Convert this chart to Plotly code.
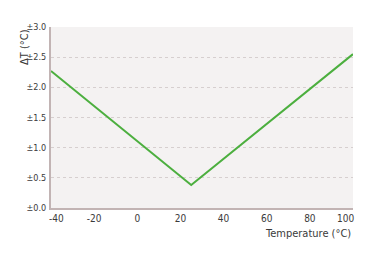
import plotly.graph_objects as go

temps = [-40, 25, 100]
delta_t = [2.27, 0.38, 2.55]
y_ticks = [0.0, 0.5, 1.0, 1.5, 2.0, 2.5, 3.0]
y_labels = ["±0.0", "±0.5", "±1.0", "±1.5", "±2.0", "±2.5", "±3.0"]
x_ticks = [-20, 0, 20, 40, 60, 80]
x_end_labels = [(-40, "-40"), (100, "100")]

FONT = "DejaVu Sans Condensed, Liberation Sans Narrow, Arial Narrow, sans-serif"
TXT = "#3a3a3a"

fig = go.Figure()
fig.add_trace(go.Scatter(x=temps, y=delta_t, mode="lines",
                         line=dict(color="#4caf3f", width=2), showlegend=False,
                         cliponaxis=False))

fig.update_layout(
    width=377, height=257,
    margin=dict(l=51, r=24, t=27, b=49),
    paper_bgcolor="white",
    plot_bgcolor="#f4f2f2",
    font=dict(family=FONT, size=10, color=TXT),
)
fig.update_xaxes(range=[-40, 100], tickvals=x_ticks, ticktext=[str(v) for v in x_ticks],
                 showgrid=False, zeroline=False, showline=True, linecolor="#c2b4b4",
                 linewidth=2, ticks="", tickfont=dict(size=10, color=TXT))
fig.update_yaxes(range=[0, 3.0], tickvals=y_ticks, ticktext=y_labels,
                 showgrid=True, gridcolor="#d6cfcf", griddash="dot", gridwidth=1,
                 zeroline=False, showline=True, linecolor="#c2b4b4", linewidth=2,
                 ticks="", ticklabelstandoff=1, tickfont=dict(size=9, color=TXT))

for xv, txt in x_end_labels:
    fig.add_annotation(x=xv, y=0, xref="x", yref="y", text=txt, showarrow=False,
                       yanchor="top", xanchor="center", yshift=-3,
                       xshift=5 if xv < 0 else -8,
                       font=dict(size=10, color=TXT))

fig.add_annotation(x=1, y=0, xref="paper", yref="y", text="Temperature (°C)",
                   showarrow=False, xanchor="right", yanchor="top", yshift=-17,
                   font=dict(size=11, color=TXT))
fig.add_annotation(x=0, y=3.0, xref="paper", yref="y", text="ΔT (°C)",
                   showarrow=False, textangle=-90, xanchor="center", yanchor="top",
                   xshift=-27, font=dict(size=11, color=TXT))

fig.write_html("out.html")
